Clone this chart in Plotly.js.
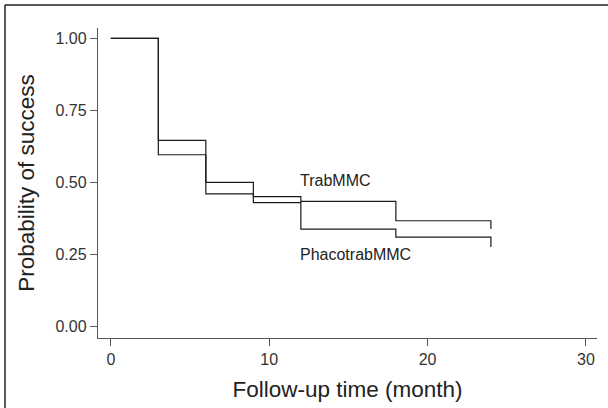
<!DOCTYPE html>
<html>
<head>
<meta charset="utf-8">
<script src="https://cdn.plot.ly/plotly-3.0.1.min.js"></script>
<style>html,body{margin:0;padding:0;background:#fff}#chart{width:608px;height:408px}</style>
</head>
<body>
<div id="chart"></div>
<script>
// Follow-up times (months) and Kaplan-Meier survival estimates
const timeMonths = [0, 3, 6, 9, 12, 18, 24];
const trabMMC = [1.00, 0.596, 0.46, 0.451, 0.434, 0.367, 0.338];
const phacotrabMMC = [1.00, 0.646, 0.50, 0.43, 0.338, 0.31, 0.276];
const seriesNames = ['TrabMMC', 'PhacotrabMMC'];
const labelPos = [{x: 11.8, y: 0.506}, {x: 11.8, y: 0.249}];
const xTicks = [0, 10, 20, 30];
const yTicks = [0, 0.25, 0.5, 0.75, 1.0];
const yTickText = ['0.00', '0.25', '0.50', '0.75', '1.00'];

const font = 'Liberation Sans, Arial, sans-serif';
const lineStyle = {color: '#1a1a1a', width: 1.2, shape: 'hv'};

const traces = [trabMMC, phacotrabMMC].map((vals, i) => ({
  type: 'scatter', mode: 'lines', x: timeMonths, y: vals,
  name: seriesNames[i], line: lineStyle, hoverinfo: 'skip'
}));

const layout = {
  width: 608, height: 408,
  margin: {l: 98, r: 11, t: 28, b: 70},
  paper_bgcolor: '#fff', plot_bgcolor: '#fff',
  showlegend: false,
  font: {family: font, color: '#333', size: 16},
  xaxis: {
    range: [-0.81, 30.7], tickvals: xTicks, ticks: 'outside', ticklen: 7,
    tickcolor: '#555', showline: true, linecolor: '#555', linewidth: 1.2,
    showgrid: false, zeroline: false, tickfont: {size: 16, color: '#333'},
    title: {text: 'Follow-up time (month)', font: {size: 22.5, color: '#222'}, standoff: 13}
  },
  yaxis: {
    range: [-0.040, 1.036], tickvals: yTicks, ticktext: yTickText, ticks: 'outside', ticklen: 7,
    tickcolor: '#555', showline: true, linecolor: '#555', linewidth: 1.2,
    showgrid: false, zeroline: false, tickfont: {size: 16, color: '#333'},
    title: {text: 'Probability of success', font: {size: 22.5, color: '#222'}, standoff: 14}
  },
  annotations: seriesNames.map((n, i) => ({
    x: labelPos[i].x, y: labelPos[i].y, xref: 'x', yref: 'y', text: n,
    showarrow: false, xanchor: 'left', yanchor: 'middle',
    font: {size: 16, color: '#222', family: font}
  })),
  shapes: [
    {type: 'line', xref: 'paper', yref: 'paper', x0: -0.1864, x1: 1.03, y0: 1.0742, y1: 1.0742, line: {color: '#222', width: 1.5}},
    {type: 'line', xref: 'paper', yref: 'paper', x0: -0.1864, x1: -0.1864, y0: 1.0742, y1: -0.24, line: {color: '#222', width: 1.5}}
  ]
};

Plotly.newPlot('chart', traces, layout, {displayModeBar: false, staticPlot: true});
</script>
</body>
</html>
